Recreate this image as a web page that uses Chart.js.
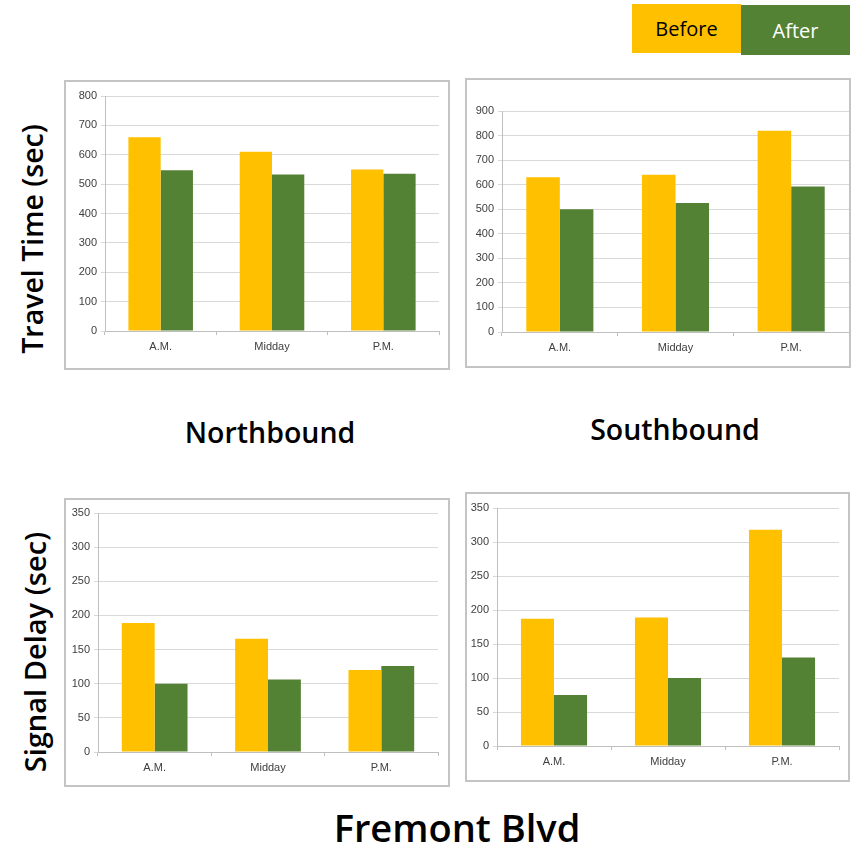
<!DOCTYPE html>
<html>
<head>
<meta charset="utf-8">
<script src="https://cdn.jsdelivr.net/npm/chart.js@4.4.0/dist/chart.umd.min.js"></script>
<style>
  body { margin: 0; width: 854px; height: 845px; background: #fff; position: relative; overflow: hidden; font-family: "Open Sans", sans-serif; }
  .box { position: absolute; border: 2px solid #c4c4c4; box-sizing: border-box; background: #fff; }
  .box canvas { position: absolute; left: 0; top: 0; }
  .txt { position: absolute; font-weight: 600; color: #000; white-space: nowrap; transform: translate(-50%, -50%); }
  .vtxt { position: absolute; font-weight: 600; color: #000; white-space: nowrap; transform: translate(-50%, -50%) rotate(-90deg); }
  .leg { position: absolute; font-size: 20px; display: flex; align-items: center; justify-content: center; }
</style>
</head>
<body>
<div class="leg" style="left:632px;top:4px;width:109px;height:49px;background:#FFC000;color:#000;">Before</div>
<div class="leg" style="left:741px;top:5px;width:109px;height:50px;background:#548235;color:#fff;">After</div>

<div class="vtxt" style="left:32px;top:239px;font-size:28.5px;">Travel Time (sec)</div>
<div class="vtxt" style="left:34px;top:652px;font-size:29px;">Signal Delay (sec)</div>
<div class="txt" style="left:270px;top:432px;font-size:28.5px;">Northbound</div>
<div class="txt" style="left:675px;top:429px;font-size:28.5px;">Southbound</div>
<div class="txt" style="left:457px;top:827px;font-size:38px;">Fremont Blvd</div>

<div class="box" style="left:64px;top:80px;width:386px;height:290px;"><canvas id="nbTravel"></canvas></div>
<div class="box" style="left:465px;top:78px;width:386px;height:290px;"><canvas id="sbTravel"></canvas></div>
<div class="box" style="left:64px;top:498px;width:386px;height:289px;"><canvas id="nbDelay"></canvas></div>
<div class="box" style="left:465px;top:492px;width:385px;height:290px;"><canvas id="sbDelay"></canvas></div>

<script>
// Data
const periods = ["A.M.", "Midday", "P.M."];
const seriesNames = ["Before", "After"];

const nbTravelBefore = [660, 610, 550];
const nbTravelAfter = [547, 533, 535];
const sbTravelBefore = [630, 640, 820];
const sbTravelAfter = [500, 525, 593];

const nbDelayBefore = [189, 166, 120];
const nbDelayAfter = [100, 106, 126];
const sbDelayBefore = [187, 189, 318];
const sbDelayAfter = [75, 100, 130];

const travelTicks = { nb: [0, 800, 100], sb: [0, 900, 100] };
const delayTicks = [0, 350, 50];

const beforeColor = "#FFC000";
const afterColor = "#548235";

// Vẽ một biểu đồ cột nhóm
function drawBars(id, before, after, yMax, yStep, yAxisWidth, xAxisHeight, padTop, padRight) {
    const canvas = document.getElementById(id);
    const box = canvas.parentElement;
    canvas.width = box.clientWidth;
    canvas.height = box.clientHeight;
    canvas.style.width = box.clientWidth + "px";
    canvas.style.height = box.clientHeight + "px";

    return new Chart(canvas.getContext("2d"), {
        type: "bar",
        data: {
            labels: periods,
            datasets: [
                { label: seriesNames[0], data: before, backgroundColor: beforeColor },
                { label: seriesNames[1], data: after, backgroundColor: afterColor },
            ],
        },
        options: {
            responsive: false,
            animation: false,
            events: [],
            layout: { padding: { top: padTop, right: padRight, left: 0, bottom: 0 } },
            categoryPercentage: 0.58,
            barPercentage: 1.0,
            plugins: { legend: { display: false }, tooltip: { enabled: false } },
            scales: {
                x: {
                    grid: { offset: true, drawOnChartArea: false, drawTicks: true, tickLength: 4, color: "#bfbfbf" },
                    border: { color: "#bfbfbf" },
                    ticks: { color: "#404040", font: { family: "Liberation Sans", size: 11 }, padding: 5, maxRotation: 0 },
                    afterFit: (s) => { s.height = xAxisHeight; },
                },
                y: {
                    min: 0,
                    max: yMax,
                    grid: { color: "#d9d9d9", tickLength: 4 },
                    border: { color: "#bfbfbf" },
                    ticks: { stepSize: yStep, color: "#404040", font: { family: "Liberation Sans", size: 11 }, padding: 4 },
                    afterFit: (s) => { s.width = yAxisWidth; },
                },
            },
        },
    });
}

drawBars("nbTravel", nbTravelBefore, nbTravelAfter, travelTicks.nb[1], travelTicks.nb[2], 39, 37, 14, 9);
drawBars("sbTravel", sbTravelBefore, sbTravelAfter, travelTicks.sb[1], travelTicks.sb[2], 35, 34, 31, 0);
drawBars("nbDelay", nbDelayBefore, nbDelayAfter, delayTicks[1], delayTicks[2], 32, 33, 13, 10);
drawBars("sbDelay", sbDelayBefore, sbDelayAfter, delayTicks[1], delayTicks[2], 30, 34, 14, 9);
</script>
</body>
</html>
